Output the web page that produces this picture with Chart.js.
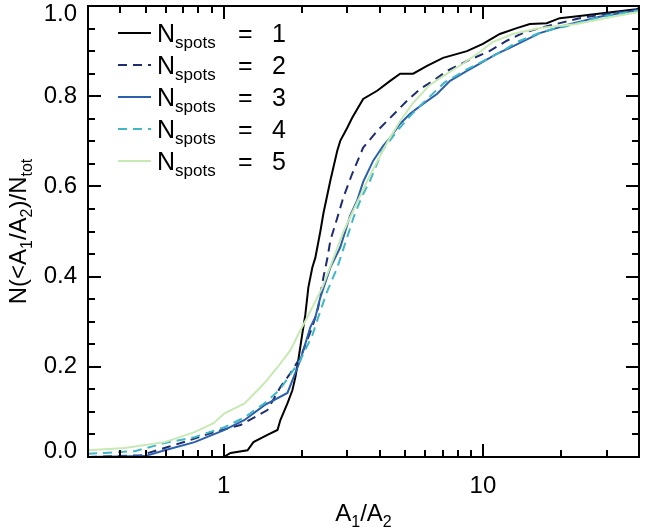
<!DOCTYPE html>
<html>
<head>
<meta charset="utf-8">
<script src="https://cdn.jsdelivr.net/npm/chart.js@4.4.0/dist/chart.umd.min.js"></script>
<style>
  html, body { margin: 0; padding: 0; background: #fff; }
</style>
</head>
<body>
<canvas id="cdf-chart" width="664" height="532"></canvas>
<script>
// cumulative distributions of A1/A2, one per number of spots
var spotCounts = [1, 2, 3, 4, 5];

var ratio1 = [1.0, 1.064, 1.237, 1.304, 1.476, 1.614, 1.656, 1.763, 1.842, 1.892, 1.942, 2.013, 2.066, 2.123, 2.199, 2.259, 2.361, 2.426, 2.581, 2.744, 2.818, 2.999, 3.133, 3.454, 3.911, 4.389, 4.797, 5.382, 6.09, 7.02, 8.68, 10.0, 11.62, 13.51, 15.17, 17.63, 19.78, 23.6, 30.0, 39.1, 40];
var frac1  = [0.0, 0.009, 0.015, 0.033, 0.049, 0.060, 0.082, 0.119, 0.148, 0.177, 0.215, 0.274, 0.315, 0.376, 0.420, 0.442, 0.500, 0.540, 0.613, 0.679, 0.701, 0.730, 0.752, 0.794, 0.812, 0.834, 0.850, 0.850, 0.867, 0.885, 0.900, 0.916, 0.938, 0.951, 0.960, 0.962, 0.973, 0.978, 0.985, 0.993, 0.995];

var ratio2 = [0.3, 0.48, 0.609, 0.747, 0.915, 1.162, 1.476, 1.656, 1.811, 1.978, 2.199, 2.318, 2.426, 2.512, 2.581, 2.744, 2.894, 3.133, 3.454, 3.911, 4.389, 5.10, 5.727, 6.42, 7.27, 8.68, 10.6, 12.37, 14.25, 16.57, 19.78, 23.6, 31.6, 39.1, 40];
var frac2  = [0.0, 0.004, 0.022, 0.038, 0.055, 0.071, 0.104, 0.155, 0.186, 0.221, 0.288, 0.332, 0.398, 0.440, 0.480, 0.530, 0.575, 0.628, 0.686, 0.723, 0.752, 0.790, 0.816, 0.834, 0.856, 0.878, 0.900, 0.923, 0.940, 0.951, 0.962, 0.973, 0.985, 0.991, 0.993];

var ratio3 = [0.3, 0.497, 0.593, 0.773, 1.009, 1.205, 1.438, 1.763, 1.978, 2.161, 2.259, 2.361, 2.581, 2.818, 3.076, 3.276, 3.454, 3.776, 4.124, 4.389, 4.797, 5.24, 5.88, 6.65, 7.47, 8.68, 9.73, 11.3, 12.7, 16.57, 21.05, 28.2, 37.8, 40];
var frac3  = [0.0, 0.002, 0.015, 0.033, 0.060, 0.082, 0.115, 0.142, 0.215, 0.288, 0.310, 0.354, 0.420, 0.465, 0.535, 0.569, 0.610, 0.657, 0.690, 0.708, 0.739, 0.761, 0.783, 0.805, 0.834, 0.856, 0.872, 0.894, 0.907, 0.940, 0.958, 0.976, 0.989, 0.991];

var ratio4 = [0.3, 0.348, 0.455, 0.593, 0.773, 1.009, 1.205, 1.438, 1.65, 1.978, 2.2, 2.318, 2.5, 2.744, 2.95, 3.17, 3.4, 3.673, 4.1, 4.67, 5.38, 5.88, 7.1, 8.7, 10.6, 11.9, 13.5, 16.5, 18.6, 21.0, 25.0, 30.0, 38.0, 40];
var frac4  = [0.007, 0.009, 0.013, 0.031, 0.044, 0.066, 0.088, 0.119, 0.150, 0.215, 0.270, 0.310, 0.365, 0.420, 0.475, 0.531, 0.575, 0.613, 0.680, 0.723, 0.763, 0.785, 0.830, 0.860, 0.885, 0.900, 0.920, 0.940, 0.949, 0.955, 0.968, 0.978, 0.988, 0.990];

var ratio5 = [0.3, 0.416, 0.593, 0.773, 0.915, 1.009, 1.205, 1.438, 1.614, 1.811, 1.978, 2.104, 2.4, 2.649, 2.9, 3.276, 3.6, 3.911, 4.3, 4.797, 5.38, 6.24, 7.27, 8.37, 9.73, 10.9, 13.04, 16.57, 23.0, 32.8, 40];
var frac5  = [0.015, 0.020, 0.033, 0.055, 0.075, 0.097, 0.119, 0.164, 0.199, 0.237, 0.281, 0.310, 0.375, 0.440, 0.500, 0.565, 0.615, 0.655, 0.700, 0.745, 0.785, 0.825, 0.850, 0.872, 0.898, 0.920, 0.938, 0.951, 0.960, 0.978, 0.987];

// tick values
var xMajorTicks = [1, 10];
var xMinorTicks = [0.4, 0.5, 0.6, 0.7, 0.8, 0.9, 2, 3, 4, 5, 6, 7, 8, 9, 20, 30];
var yMajorTicks = [0, 0.2, 0.4, 0.6, 0.8, 1.0];
var yMinorTicks = [0.05, 0.1, 0.15, 0.25, 0.3, 0.35, 0.45, 0.5, 0.55, 0.65, 0.7, 0.75, 0.85, 0.9, 0.95];

var colors = ['#000000', '#1f2d6e', '#2a5fab', '#41b6c4', '#c7e9b4'];
var dashes = [[], [9, 6], [], [9, 6], []];

var FONT = '"Liberation Sans", Arial, sans-serif';

function pairs(xs, ys) {
  return xs.map(function(v, i) { return {x: v, y: ys[i]}; });
}

var allX = [ratio1, ratio2, ratio3, ratio4, ratio5];
var allY = [frac1, frac2, frac3, frac4, frac5];

var datasets = spotCounts.map(function(n, i) {
  return {
    label: 'N_spots = ' + n,
    data: pairs(allX[i], allY[i]),
    borderColor: colors[i],
    borderDash: dashes[i],
    borderWidth: 2,
    pointRadius: 0,
    tension: 0,
    fill: false,
    order: 5 - i
  };
});

// draw a string with subscripted parts: parts = [[text, isSub], ...]
function measureParts(ctx, parts, big, small) {
  var w = 0;
  parts.forEach(function(p) {
    ctx.font = (p[1] ? small : big) + 'px ' + FONT;
    w += ctx.measureText(p[0]).width;
  });
  return w;
}
function drawParts(ctx, parts, x, y, big, small, subShift) {
  parts.forEach(function(p) {
    ctx.font = (p[1] ? small : big) + 'px ' + FONT;
    ctx.fillText(p[0], x, p[1] ? y + subShift : y);
    x += ctx.measureText(p[0]).width;
  });
  return x;
}

var idlFrame = {
  id: 'idlFrame',
  afterDatasetsDraw: function(chart) {
    var ctx = chart.ctx, a = chart.chartArea;
    var xs = chart.scales.x, ys = chart.scales.y;
    ctx.save();
    ctx.strokeStyle = '#000';
    ctx.fillStyle = '#000';

    // frame
    ctx.lineWidth = 2;
    ctx.strokeRect(a.left, a.top, a.right - a.left, a.bottom - a.top);

    // inward ticks on all four sides
    ctx.beginPath();
    function xTick(v, len) {
      var px = Math.round(xs.getPixelForValue(v));
      ctx.moveTo(px, a.bottom); ctx.lineTo(px, a.bottom - len);
      ctx.moveTo(px, a.top); ctx.lineTo(px, a.top + len);
    }
    function yTick(v, len) {
      var py = Math.round(ys.getPixelForValue(v));
      ctx.moveTo(a.left, py); ctx.lineTo(a.left + len, py);
      ctx.moveTo(a.right, py); ctx.lineTo(a.right - len, py);
    }
    xMajorTicks.forEach(function(v) { xTick(v, 13); });
    xMinorTicks.forEach(function(v) { xTick(v, 7); });
    yMajorTicks.forEach(function(v) { yTick(v, 13); });
    yMinorTicks.forEach(function(v) { yTick(v, 7); });
    ctx.stroke();

    // tick labels
    ctx.font = '24px ' + FONT;
    ctx.textBaseline = 'middle';
    ctx.textAlign = 'right';
    yMajorTicks.forEach(function(v) {
      var py = Math.min(Math.max(ys.getPixelForValue(v), 14), 451);
      ctx.fillText(v.toFixed(1), a.left - 11, py);
    });
    ctx.textAlign = 'center';
    xMajorTicks.forEach(function(v) {
      ctx.fillText(String(v), xs.getPixelForValue(v), a.bottom + 29);
    });

    // axis titles
    ctx.textAlign = 'left';
    ctx.textBaseline = 'alphabetic';
    var xTitle = [['A', false], ['1', true], ['/A', false], ['2', true]];
    var w = measureParts(ctx, xTitle, 24, 16);
    drawParts(ctx, xTitle, (a.left + a.right) / 2 - w / 2, 521, 24, 16, 6);

    var yTitle = [['N(<A', false], ['1', true], ['/A', false], ['2', true], [')/N', false], ['tot', true]];
    ctx.save();
    ctx.translate(26, (a.top + a.bottom) / 2);
    ctx.rotate(-Math.PI / 2);
    w = measureParts(ctx, yTitle, 24, 16);
    drawParts(ctx, yTitle, -w / 2, 0, 24, 16, 6);
    ctx.restore();

    // legend
    chart.data.datasets.forEach(function(ds, i) {
      var ry = 33 + i * 32;
      ctx.beginPath();
      ctx.lineWidth = 2;
      ctx.strokeStyle = ds.borderColor;
      ctx.setLineDash(ds.borderDash);
      ctx.moveTo(118, ry); ctx.lineTo(151, ry);
      ctx.stroke();
      ctx.setLineDash([]);
      drawParts(ctx, [['N', false], ['spots', true]], 157, ry + 9, 25, 17, 6);
      ctx.font = '25px ' + FONT;
      ctx.fillText('=', 238, ry + 9);
      ctx.fillText(String(spotCounts[i]), 272, ry + 9);
    });
    ctx.restore();
  }
};

new Chart(document.getElementById('cdf-chart'), {
  type: 'line',
  data: { datasets: datasets },
  options: {
    responsive: false,
    animation: false,
    layout: { padding: { left: 88, right: 25, top: 6, bottom: 75 } },
    plugins: { legend: { display: false }, tooltip: { enabled: false } },
    scales: {
      x: { type: 'logarithmic', min: 0.3, max: 40, display: false },
      y: { type: 'linear', min: 0, max: 1, display: false }
    }
  },
  plugins: [idlFrame]
});
</script>
</body>
</html>
